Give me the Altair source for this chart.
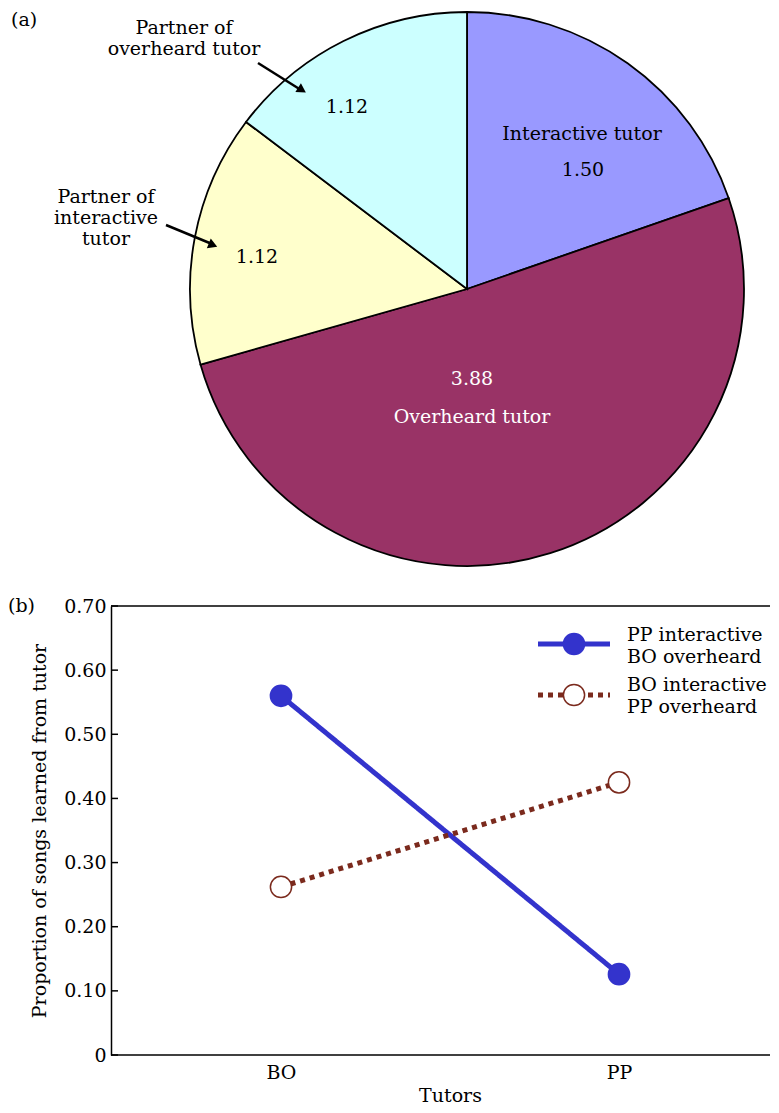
import altair as alt
import pandas as pd

FONT = "DejaVu Serif"

# ---------------- data ----------------
slices = ["Interactive tutor", "Overheard tutor",
          "Partner of interactive tutor", "Partner of overheard tutor"]
slice_values = [1.50, 3.88, 1.12, 1.12]
slice_colors = ["#9999ff", "#993366", "#ffffcc", "#ccffff"]

tutors = ["BO", "PP"]
series_names = ["PP interactive / BO overheard", "BO interactive / PP overheard"]
pp_interactive_vals = [0.56, 0.126]
bo_interactive_vals = [0.262, 0.425]
series_colors = ["#3333cc", "#7b2a1d"]
series_fills = ["#3333cc", "#ffffff"]

y_ticks = [0, 0.1, 0.2, 0.3, 0.4, 0.5, 0.6, 0.7]

pie_df = pd.DataFrame({"slice": slices, "value": slice_values,
                       "idx": list(range(len(slices)))})

rows = []
for name, vals in zip(series_names, [pp_interactive_vals, bo_interactive_vals]):
    for t, v in zip(tutors, vals):
        rows.append({"series": name, "tutor": t, "value": v})
line_df = pd.DataFrame(rows)

# ---------------- helpers ----------------
def txt(s, x, y, size=19, color="black", align="center", baseline="middle"):
    return alt.Chart(alt.Data(values=[{}])).mark_text(
        text=s, fontSize=size, font=FONT, color=color, align=align, baseline=baseline
    ).encode(x=alt.value(x), y=alt.value(y))

def seg(x1, y1, x2, y2, color="black", width=2.5, dash=None):
    kw = dict(color=color, strokeWidth=width)
    if dash:
        kw["strokeDash"] = dash
    return alt.Chart(alt.Data(values=[{}])).mark_rule(**kw).encode(
        x=alt.value(x1), y=alt.value(y1), x2=alt.value(x2), y2=alt.value(y2))

def head(x, y, angle, size=110):
    return alt.Chart(alt.Data(values=[{}])).mark_point(
        shape="triangle-right", filled=True, color="black", opacity=1,
        size=size, angle=angle
    ).encode(x=alt.value(x), y=alt.value(y))

def dot(x, y, fill, stroke, size=450):
    return alt.Chart(alt.Data(values=[{}])).mark_point(
        shape="circle", filled=True, fill=fill, stroke=stroke, strokeWidth=1.5,
        opacity=1, size=size
    ).encode(x=alt.value(x), y=alt.value(y))

# ---------------- pie (a) ----------------
PW, PH = 651, 587
CX, CY, R = 356, 279, 277

arcs = alt.Chart(pie_df).mark_arc(stroke="black", strokeWidth=1.8, radius=R).encode(
    theta=alt.Theta("value:Q", stack=True),
    fill=alt.Fill("slice:N", scale=alt.Scale(domain=slices, range=slice_colors), legend=None),
    order=alt.Order("idx:Q"),
    x=alt.value(CX), y=alt.value(CY),
)

pie = alt.layer(
    arcs,
    txt("Interactive tutor", 471, 124),
    txt(f"{slice_values[0]:.2f}", 472, 160),
    txt(f"{slice_values[1]:.2f}", 361, 369, color="#ffffff"),
    txt("Overheard tutor", 361, 407, color="#ffffff"),
    txt(f"{slice_values[2]:.2f}", 146, 247),
    txt(f"{slice_values[3]:.2f}", 236, 97),
    txt("Partner of", 73, 18),
    txt("overheard tutor", 73, 39),
    txt("Partner of", -5, 187),
    txt("interactive", -5, 208),
    txt("tutor", -5, 229),
    txt("(a)", -100, 10, align="left"),
    seg(147, 53, 190, 80),
    head(191, 80, 32),
    seg(55, 215, 101, 234),
    head(102, 235, 22),
).properties(width=PW, height=PH)

# ---------------- line chart (b) ----------------
LW, LH = 659, 449

xscale = alt.Scale(type="point", domain=tutors, range=[170, 508], padding=0)
yscale = alt.Scale(domain=[0, 0.7], nice=False, zero=True)

xaxis = alt.Axis(domain=False, ticks=False, grid=False, labelFont=FONT, labelFontSize=19,
                 labelColor="black", labelPadding=8, labelAngle=0,
                 title="Tutors", titleFont=FONT, titleFontSize=19, titleFontWeight="normal",
                 titleColor="black", titlePadding=4)
yaxis = alt.Axis(values=y_ticks, grid=False, ticks=False, tickSize=0,
                 labelExpr="datum.value == 0 ? '0' : format(datum.value, '.2f')",
                 labelFont=FONT, labelFontSize=19, labelColor="black", labelPadding=5,
                 domain=True, domainColor="black", domainWidth=1.5,
                 title="Proportion of songs learned from tutor", titleFont=FONT,
                 titleFontSize=19, titleFontWeight="normal", titleColor="black",
                 titlePadding=14)

series_stroke = alt.Scale(domain=series_names, range=series_colors)

base = alt.Chart(line_df).encode(
    x=alt.X("tutor:N", scale=xscale, axis=xaxis, sort=tutors),
    y=alt.Y("value:Q", scale=yscale, axis=yaxis),
)

lines = base.mark_line(strokeWidth=5).encode(
    stroke=alt.Stroke("series:N", scale=series_stroke, legend=None),
    strokeDash=alt.StrokeDash("series:N", scale=alt.Scale(domain=series_names, range=[[1, 0], [5, 5]]), legend=None),
    detail="series:N",
)
points = base.mark_point(shape="circle", filled=True, size=450, opacity=1, strokeWidth=1.5).encode(
    fill=alt.Fill("series:N", scale=alt.Scale(domain=series_names, range=series_fills), legend=None),
    stroke=alt.Stroke("series:N", scale=series_stroke, legend=None),
)

ticks = alt.Chart(pd.DataFrame({"value": y_ticks})).mark_rule(color="black", strokeWidth=1.5).encode(
    y=alt.Y("value:Q", scale=yscale, axis=yaxis), x=alt.value(0), x2=alt.value(7))

frame_top = seg(0, 0, LW, 0, width=1.5)
frame_bot = seg(0, LH, LW, LH, width=1.5)

line_chart = alt.layer(
    lines, points, ticks, frame_top, frame_bot,
    seg(427, 38, 499, 38, color=series_colors[0], width=5),
    dot(463, 38, series_fills[0], series_colors[0]),
    txt("PP interactive", 516, 29, align="left"),
    txt("BO overheard", 516, 51, align="left"),
    seg(427, 89, 499, 89, color=series_colors[1], width=5, dash=[5, 5]),
    dot(463, 89, series_fills[1], series_colors[1]),
    txt("BO interactive", 516, 79, align="left"),
    txt("PP overheard", 516, 101, align="left"),
    txt("(b)", -103, 0, align="left"),
).properties(width=LW, height=LH)

chart = alt.vconcat(pie, line_chart, spacing=0).resolve_scale(
    fill="independent", stroke="independent"
).properties(padding=0).configure_view(stroke=None)

chart.save("out.html", embed_options={"renderer": "svg", "actions": False})
